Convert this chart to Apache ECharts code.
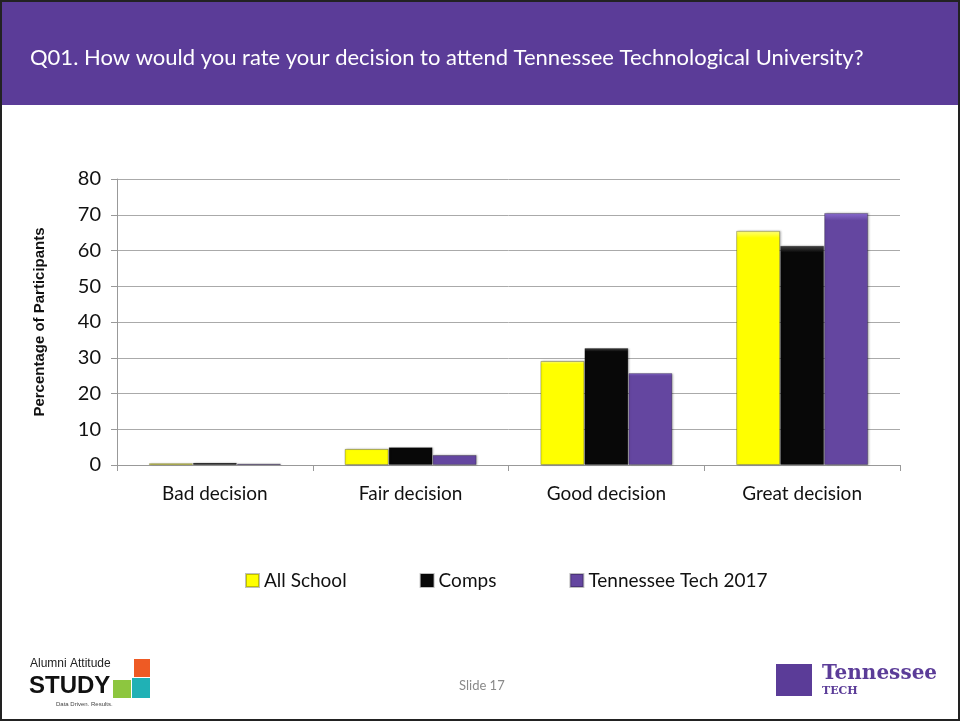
<!DOCTYPE html>
<html>
<head>
<meta charset="utf-8">
<script src="https://cdn.jsdelivr.net/npm/echarts@6/dist/echarts.min.js"></script>
<style>
  html, body { margin: 0; padding: 0; background: #fff; }
  #chart { width: 960px; height: 721px; }
</style>
</head>
<body>
<div id="chart"></div>
<script>
const categories = ["Bad decision", "Fair decision", "Good decision", "Great decision"];
const allSchool = [0.5, 4.5, 29.1, 65.5];
const comps = [0.6, 5.0, 32.7, 61.3];
const ttech2017 = [0.4, 2.8, 25.7, 70.5];
const yTicks = { min: 0, max: 80, interval: 10 };

const font = "Lato, 'Open Sans', sans-serif";

function bar(name, data, color, top) {
  return {
    name: name,
    type: "bar",
    data: data,
    barWidth: 44,
    barGap: "0%",
    itemStyle: {
      color: new echarts.graphic.LinearGradient(0, 0, 0, 1, [
        { offset: 0, color: top },
        { offset: 0.03, color: color },
        { offset: 1, color: color },
      ]),
      borderColor: "rgba(0,0,0,0.25)",
      borderWidth: 1,
      shadowColor: "rgba(0,0,0,0.25)",
      shadowBlur: 2,
      shadowOffsetX: 1,
    },
  };
}

let chart = echarts.init(document.getElementById("chart"));
chart.setOption({
  backgroundColor: "#fff",
  animation: false,
  graphic: [
    // slide frame and header
    { type: "rect", shape: { x: 1, y: 1, width: 958, height: 719 }, style: { fill: "none", stroke: "#222", lineWidth: 2 } },
    { type: "rect", shape: { x: 2, y: 2, width: 956, height: 103 }, style: { fill: "#5B3C98" } },
    {
      type: "text", left: 30, top: 47,
      style: { text: "Q01. How would you rate your decision to attend Tennessee Technological University?", fill: "#fff", font: "22px " + font },
    },
    // footer
    { type: "text", left: 459, top: 679, style: { text: "Slide 17", fill: "#8a8a8a", font: "13px " + font } },
    // Alumni Attitude Study logo
    { type: "text", left: 30, top: 658, style: { text: "Alumni Attitude", fill: "#222", font: "12px 'Liberation Sans Narrow', 'Liberation Sans', sans-serif" } },
    { type: "text", left: 29, top: 674, style: { text: "STUDY", fill: "#111", font: "bold 24px 'Liberation Sans Narrow', 'Liberation Sans', sans-serif" } },
    { type: "text", left: 56, top: 701, style: { text: "Data Driven. Results.", fill: "#444", font: "6px sans-serif" } },
    { type: "rect", shape: { x: 134, y: 659, width: 16, height: 18 }, style: { fill: "#EE5A24" } },
    { type: "rect", shape: { x: 132, y: 678, width: 18, height: 20 }, style: { fill: "#20B1B5" } },
    { type: "rect", shape: { x: 113, y: 680, width: 18, height: 18 }, style: { fill: "#8DC63F" } },
    // Tennessee Tech logo
    { type: "rect", shape: { x: 776, y: 664, width: 36, height: 32 }, style: { fill: "#5B3C98" } },
    { type: "text", left: 822, top: 664, style: { text: "Tennessee", fill: "#5B3C98", font: "bold 20px 'DejaVu Serif', serif" } },
    { type: "text", left: 822, top: 686, style: { text: "TECH", fill: "#5B3C98", font: "bold 11px 'DejaVu Serif', serif" } },
  ],
  grid: { left: 117, right: 60, top: 179, bottom: 256, containLabel: false },
  legend: {
    data: ["All School", "Comps", "Tennessee Tech 2017"],
    top: 566,
    left: 240,
    itemWidth: 13,
    itemHeight: 13,
    itemGap: 73,
    icon: "rect",
    textStyle: { fontFamily: font, fontSize: 19, color: "#111" },
  },
  xAxis: {
    type: "category",
    data: categories,
    axisLine: { lineStyle: { color: "#999", width: 1 } },
    axisTick: { show: true, length: 6, lineStyle: { color: "#999" } },
    axisLabel: { fontFamily: font, fontSize: 19, color: "#111", margin: 19 },
  },
  yAxis: {
    type: "value",
    min: yTicks.min,
    max: yTicks.max,
    interval: yTicks.interval,
    name: "Percentage of Participants",
    nameLocation: "middle",
    nameGap: 70,
    nameTextStyle: { fontFamily: "'Liberation Sans', sans-serif", fontWeight: "bold", fontSize: 15, color: "#111" },
    axisLine: { show: true, lineStyle: { color: "#999" } },
    axisTick: { show: true, length: 6, lineStyle: { color: "#999" } },
    axisLabel: { fontFamily: font, fontSize: 20, color: "#111", margin: 16 },
    splitLine: { lineStyle: { color: "#aaa", width: 1 } },
  },
  series: [
    bar("All School", allSchool, "#FFFF00", "#FFFF80"),
    bar("Comps", comps, "#080808", "#444"),
    bar("Tennessee Tech 2017", ttech2017, "#6446A0", "#8A6CD0"),
  ],
});
</script>
</body>
</html>
